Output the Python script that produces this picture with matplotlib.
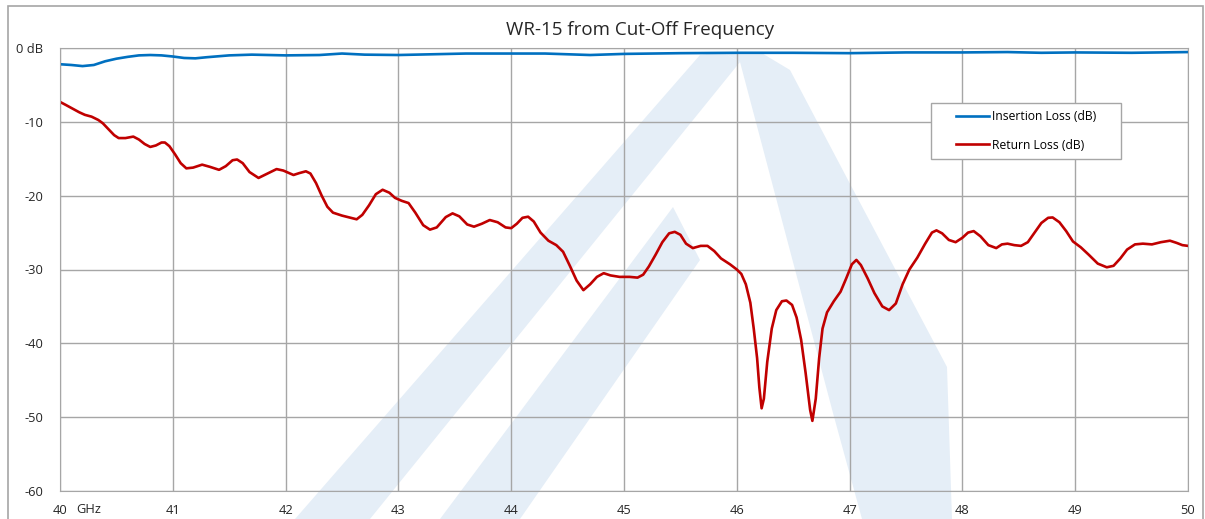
import numpy as np
import matplotlib.pyplot as plt
from matplotlib.patches import Rectangle, Polygon

# Insertion loss (dB)
il_freq = [40.0, 40.1, 40.2, 40.3, 40.4, 40.5, 40.6, 40.7, 40.8, 40.9, 41.0, 41.1, 41.2, 41.3,
           41.5, 41.7, 42.0, 42.3, 42.5, 42.7, 43.0, 43.3, 43.6, 44.0, 44.3, 44.7, 45.0, 45.5,
           46.0, 46.5, 47.0, 47.5, 48.0, 48.4, 48.7, 49.0, 49.5, 50.0]
il_db = [-2.2, -2.3, -2.45, -2.3, -1.8, -1.45, -1.2, -1.0, -0.95, -1.0, -1.15, -1.35, -1.4, -1.25,
         -1.0, -0.9, -1.0, -0.95, -0.75, -0.9, -0.95, -0.85, -0.75, -0.75, -0.75, -0.95, -0.8, -0.7,
         -0.65, -0.65, -0.7, -0.6, -0.6, -0.55, -0.65, -0.6, -0.65, -0.55]

# Return loss (dB)
rl_freq = [40.00, 40.05, 40.11, 40.17, 40.22, 40.28, 40.34, 40.38, 40.43, 40.48, 40.52, 40.58,
           40.65, 40.70, 40.75, 40.80, 40.85, 40.90, 40.93, 40.97, 41.02, 41.07, 41.12, 41.18,
           41.26, 41.33, 41.41, 41.47, 41.53, 41.57, 41.62, 41.68, 41.76, 41.84, 41.92, 41.98,
           42.07, 42.12, 42.18, 42.22, 42.27, 42.32, 42.37, 42.42, 42.50, 42.58, 42.63, 42.68,
           42.74, 42.80, 42.86, 42.92, 42.97, 43.03, 43.09, 43.15, 43.22, 43.28, 43.34, 43.42,
           43.48, 43.54, 43.61, 43.67, 43.74, 43.81, 43.88, 43.95, 44.00, 44.05, 44.10, 44.15,
           44.20, 44.26, 44.33, 44.40, 44.46, 44.52, 44.58, 44.64, 44.70, 44.76, 44.82, 44.88,
           44.96, 45.05, 45.12, 45.17, 45.22, 45.28, 45.34, 45.40, 45.45, 45.50, 45.55, 45.61,
           45.68, 45.74, 45.80, 45.86, 45.94, 46.00, 46.04, 46.08, 46.12, 46.15, 46.18, 46.20,
           46.22, 46.24, 46.27, 46.31, 46.35, 46.40, 46.44, 46.49, 46.53, 46.57, 46.61, 46.65,
           46.67, 46.70, 46.73, 46.76, 46.80, 46.86, 46.92, 46.97, 47.02, 47.06, 47.10, 47.16,
           47.22, 47.29, 47.35, 47.41, 47.47, 47.53, 47.60, 47.67, 47.73, 47.77, 47.82, 47.88,
           47.94, 48.00, 48.05, 48.10, 48.16, 48.23, 48.30, 48.35, 48.40, 48.46, 48.52, 48.58,
           48.64, 48.70, 48.76, 48.80, 48.86, 48.92, 48.98, 49.05, 49.12, 49.20, 49.28, 49.34,
           49.40, 49.46, 49.53, 49.60, 49.68, 49.76, 49.84, 49.90, 49.95, 50.00]
rl_db = [-7.3, -7.7, -8.2, -8.7, -9.05, -9.3, -9.75, -10.2, -11.0, -11.8, -12.2, -12.2,
         -12.0, -12.4, -13.0, -13.4, -13.2, -12.8, -12.8, -13.3, -14.4, -15.6, -16.3, -16.2,
         -15.8, -16.1, -16.5, -16.0, -15.2, -15.1, -15.6, -16.8, -17.6, -17.0, -16.4, -16.6,
         -17.2, -16.95, -16.7, -17.0, -18.3, -20.0, -21.5, -22.3, -22.7, -23.0, -23.2, -22.6,
         -21.3, -19.8, -19.2, -19.6, -20.3, -20.7, -21.0, -22.3, -24.0, -24.6, -24.3, -22.9,
         -22.4, -22.8, -23.9, -24.2, -23.8, -23.3, -23.6, -24.3, -24.4, -23.8, -23.0, -22.85,
         -23.5, -25.0, -26.1, -26.7, -27.6, -29.5, -31.5, -32.8, -32.0, -31.0, -30.5, -30.8,
         -31.0, -31.0, -31.1, -30.7, -29.6, -28.0, -26.3, -25.1, -24.9, -25.3, -26.5, -27.1,
         -26.8, -26.8, -27.5, -28.5, -29.3, -30.0, -30.6, -32.0, -34.5, -38.0, -42.0, -46.0,
         -48.8, -47.5, -42.5, -38.0, -35.5, -34.3, -34.2, -34.8, -36.5, -39.5, -44.0, -49.0,
         -50.5, -47.5, -42.0, -38.0, -35.8, -34.3, -33.0, -31.2, -29.3, -28.7, -29.4, -31.2,
         -33.2, -35.0, -35.5, -34.6, -32.0, -30.0, -28.4, -26.5, -25.0, -24.7, -25.1, -26.0,
         -26.3, -25.7, -25.0, -24.8, -25.5, -26.7, -27.1, -26.6, -26.5, -26.7, -26.8, -26.3,
         -25.0, -23.7, -23.0, -22.95, -23.6, -24.8, -26.2, -27.0, -28.0, -29.2, -29.7, -29.5,
         -28.5, -27.3, -26.6, -26.5, -26.6, -26.3, -26.1, -26.4, -26.7, -26.8]

x_ticks = list(range(40, 51))
y_ticks = [0, -10, -20, -30, -40, -50, -60]
y_labels = ['0 dB', '-10', '-20', '-30', '-40', '-50', '-60']

W, H = 1205, 519
fig = plt.figure(figsize=(W / 100, H / 100), dpi=100)
plt.rcParams['font.family'] = ['Open Sans', 'DejaVu Sans']

def px(x, y):
    return (x / W, 1 - y / H)

# chart frame
fig.patches.append(Rectangle(px(8, 530), (1203 - 8) / W, (530 - 6) / H, transform=fig.transFigure,
                             facecolor='white', edgecolor='#A6A6A6', lw=1.2, zorder=-2))

# faint watermark logo
wm = '#E5EEF7'
shapes = [
    [(295, 519), (370, 519), (740, 62), (722, 52), (700, 55)],
    [(440, 519), (520, 519), (700, 260), (673, 207)],
    [(740, 62), (722, 52), (760, 52), (790, 70), (848, 180), (947, 367), (952, 519),
     (862, 519), (833, 413)],
]
for s in shapes:
    fig.patches.append(Polygon([px(*p) for p in s], closed=True, transform=fig.transFigure,
                               facecolor=wm, edgecolor='none', zorder=-1))

ax = fig.add_axes([60 / W, 1 - 491 / H, (1188 - 60) / W, (491 - 48) / H])
ax.set_zorder(1)
ax.patch.set_alpha(0)
ax.plot(il_freq, il_db, color='#0070C0', lw=1.9, label='Insertion Loss (dB)', solid_joinstyle='round')
ax.plot(rl_freq, rl_db, color='#C00000', lw=1.9, label='Return Loss (dB)', solid_joinstyle='round')

ax.set_xlim(40, 50)
ax.set_ylim(-60, 0)
ax.set_xticks(x_ticks)
ax.set_yticks(y_ticks)
ax.set_yticklabels(y_labels)
ax.grid(True, color='#A6A6A6', lw=1.0)
ax.set_axisbelow(True)
for sp in ax.spines.values():
    sp.set_color('#A6A6A6')
ax.tick_params(length=0, labelsize=9.3, colors='#262626', pad=9)
ax.tick_params(axis='y', pad=12)
ax.text(40.14, -62.5, 'GHz', fontsize=9.3, color='#262626', ha='left', va='center')

fig.text(640 / W, 1 - 30 / H, 'WR-15 from Cut-Off Frequency', ha='center', va='center',
         fontsize=13.5, color='#262626')

# legend: box drawn separately, entries from the plotted lines
box = Rectangle(px(931, 159), (1121 - 931) / W, (159 - 103) / H, transform=fig.transFigure,
                facecolor='white', edgecolor='#A6A6A6', lw=1.0, zorder=4, clip_on=False)
ax.add_patch(box)
leg = ax.legend(loc='upper left', bbox_to_anchor=px(956, 110), bbox_transform=fig.transFigure,
                frameon=False, fontsize=8.7, handlelength=2.7, borderaxespad=0, borderpad=0,
                labelspacing=1.3, handletextpad=0.25)
leg.set_zorder(5)

fig.savefig('out.png', dpi=100)
